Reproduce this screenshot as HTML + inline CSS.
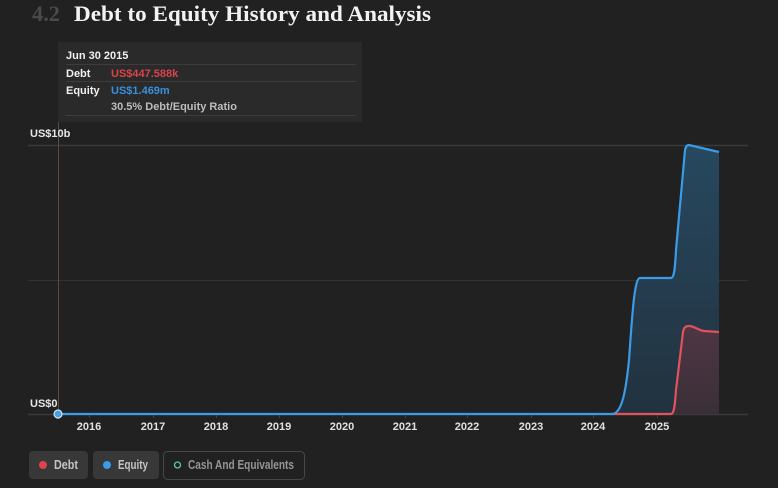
<!DOCTYPE html>
<html><head><meta charset="utf-8"><style>
html,body{margin:0;padding:0;background:#212121;}
svg{display:block;}
</style></head><body>
<svg width="778" height="488" viewBox="0 0 778 488" xmlns="http://www.w3.org/2000/svg">
<defs>
<linearGradient id="gb" x1="0" y1="0" x2="0" y2="1">
<stop offset="0" stop-color="#27485f"/>
<stop offset="1" stop-color="#22323f"/>
</linearGradient>
<linearGradient id="gr" x1="0" y1="0" x2="0" y2="1">
<stop offset="0" stop-color="#4f3645"/>
<stop offset="1" stop-color="#3a2f37"/>
</linearGradient>
</defs>
<rect width="778" height="488" fill="#212121"/>
<!-- title -->
<text x="32" y="21" font-family="Liberation Serif, serif" font-size="22" font-weight="bold" fill="#4a4a4a" textLength="28" lengthAdjust="spacingAndGlyphs">4.2</text>
<text x="74" y="21" font-family="Liberation Serif, serif" font-size="22" font-weight="bold" fill="#f2f2f2" textLength="357" lengthAdjust="spacingAndGlyphs">Debt to Equity History and Analysis</text>
<!-- gridlines -->
<line x1="28" y1="145.5" x2="748" y2="145.5" stroke="#3a3a3a" stroke-width="1.5"/>
<line x1="28" y1="280.5" x2="748" y2="280.5" stroke="#333" stroke-width="1"/>
<line x1="28" y1="414.5" x2="748" y2="414.5" stroke="#3a3a3a" stroke-width="1.5"/>
<!-- cursor line -->
<line x1="58.5" y1="122" x2="58.5" y2="414" stroke="#5a4b3c" stroke-width="1"/>
<!-- y labels -->
<text x="30" y="137" font-family="Liberation Sans, sans-serif" font-size="11" font-weight="bold" fill="#e6e6e6">US$10b</text>
<text x="30" y="407" font-family="Liberation Sans, sans-serif" font-size="11" font-weight="bold" fill="#e6e6e6">US$0</text>
<!-- fills -->
<path d="M612,414 C622,414 626,390 629,360 C632,320 634,278 640,278 L671,278 C674,278 675,270 676,250 L685,150 C686,146 687,145 689,145 L719,152 L719,414 Z" fill="url(#gb)"/>
<path d="M671,414 C674,414 675,405 676,390 L683,332 C684,327 686,326 689,326 C694,326 698,330 704,331 L719,332 L719,414 Z" fill="url(#gr)"/>
<!-- lines -->
<path d="M612,414 L671,414 C674,414 675,405 676,390 L683,332 C684,327 686,326 689,326 C694,326 698,330 704,331 L719,332" fill="none" stroke="#e0525c" stroke-width="2.2"/>
<path d="M58,414 L612,414 C622,414 626,390 629,360 C632,320 634,278 640,278 L671,278 C674,278 675,270 676,250 L685,150 C686,146 687,145 689,145 L719,152" fill="none" stroke="#3a9be6" stroke-width="2.2"/>
<circle cx="58" cy="414" r="4" fill="#4a9fe0" stroke="#cfe3f5" stroke-width="1.2"/>
<!-- ticks -->
<g stroke="#444" stroke-width="1">
<line x1="89.5" y1="415" x2="89.5" y2="418"/><line x1="153.5" y1="415" x2="153.5" y2="418"/><line x1="216.5" y1="415" x2="216.5" y2="418"/><line x1="279.5" y1="415" x2="279.5" y2="418"/><line x1="342.5" y1="415" x2="342.5" y2="418"/><line x1="405.5" y1="415" x2="405.5" y2="418"/><line x1="467.5" y1="415" x2="467.5" y2="418"/><line x1="531.5" y1="415" x2="531.5" y2="418"/><line x1="593.5" y1="415" x2="593.5" y2="418"/><line x1="657.5" y1="415" x2="657.5" y2="418"/>
</g>
<g font-family="Liberation Sans, sans-serif" font-size="11" font-weight="bold" fill="#e0e0e0" text-anchor="middle">
<text x="89" y="430">2016</text><text x="153" y="430">2017</text><text x="216" y="430">2018</text><text x="279" y="430">2019</text><text x="342" y="430">2020</text><text x="405" y="430">2021</text><text x="467" y="430">2022</text><text x="531" y="430">2023</text><text x="593" y="430">2024</text><text x="657" y="430">2025</text>
</g>
<!-- tooltip -->
<rect x="58" y="42" width="304" height="80" fill="#2a2a2a"/>
<line x1="66" y1="64.5" x2="356" y2="64.5" stroke="#3d3d3d"/>
<line x1="66" y1="81.5" x2="356" y2="81.5" stroke="#3d3d3d"/>
<line x1="66" y1="115.5" x2="356" y2="115.5" stroke="#3d3d3d"/>
<g font-family="Liberation Sans, sans-serif" font-size="11">
<text x="66" y="59" fill="#f0f0f0" font-weight="bold">Jun 30 2015</text>
<text x="66" y="77" fill="#f0f0f0" font-weight="bold">Debt</text>
<text x="111" y="77" fill="#d9434c" font-weight="bold">US$447.588k</text>
<text x="66" y="94" fill="#f0f0f0" font-weight="bold">Equity</text>
<text x="111" y="94" fill="#3a8fdc" font-weight="bold">US$1.469m</text>
<text x="111" y="110" fill="#bdbdbd" font-weight="bold">30.5% Debt/Equity Ratio</text>
</g>
<!-- legend -->
<rect x="29" y="451" width="59" height="28" rx="4" fill="#383838"/>
<circle cx="43" cy="465" r="4" fill="#e0434c"/>
<text x="54" y="469" font-family="Liberation Sans, sans-serif" font-size="12.5" font-weight="bold" fill="#c4c4c4" textLength="24" lengthAdjust="spacingAndGlyphs">Debt</text>
<rect x="93" y="451" width="66" height="28" rx="4" fill="#383838"/>
<circle cx="107" cy="465" r="4" fill="#3a9be6"/>
<text x="118" y="469" font-family="Liberation Sans, sans-serif" font-size="12.5" font-weight="bold" fill="#c4c4c4" textLength="30" lengthAdjust="spacingAndGlyphs">Equity</text>
<rect x="163.5" y="451.5" width="141" height="28" rx="4" fill="none" stroke="#474747"/>
<circle cx="177.5" cy="465" r="3" fill="none" stroke="#5fc7a5" stroke-width="1.3"/>
<text x="188" y="469" font-family="Liberation Sans, sans-serif" font-size="12.5" font-weight="bold" fill="#959595" textLength="106" lengthAdjust="spacingAndGlyphs">Cash And Equivalents</text>
</svg>
</body></html>
